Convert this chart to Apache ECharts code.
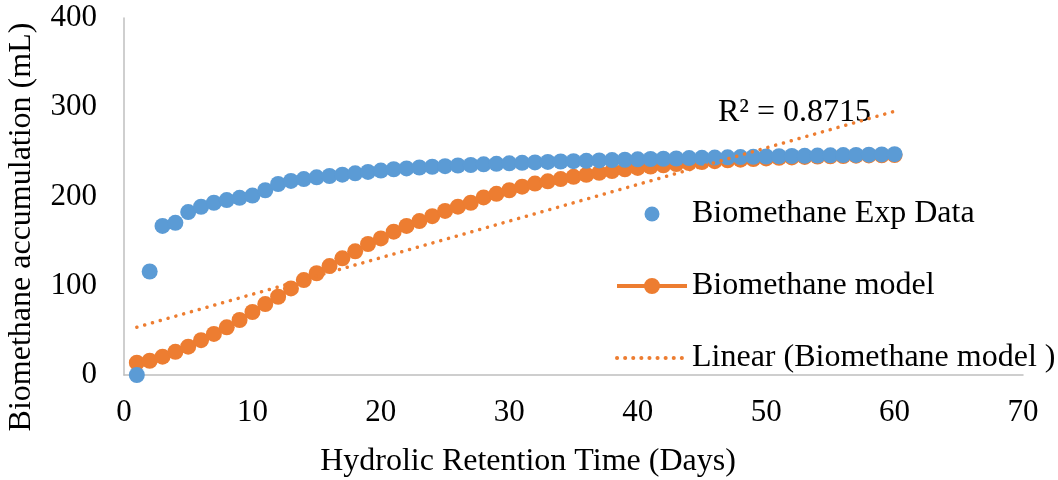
<!DOCTYPE html>
<html>
<head>
<meta charset="utf-8">
<script src="https://cdn.jsdelivr.net/npm/echarts@6/dist/echarts.min.js"></script>
<style>
html,body{margin:0;padding:0;background:#fff;}
#chart{width:1058px;height:480px;}
</style>
</head>
<body>
<div id="chart"></div>
<script>
// ---- data ----
const days = [];
for (let d = 1; d <= 60; d++) days.push(d);

const expData = [
  0, 116, 167, 170.5, 182.5, 188.5, 193, 196, 198.5, 201,
  207, 214, 217.5, 219.5, 221.5, 223, 224.5, 226, 227.5, 229,
  230.5, 231.5, 232.5, 233.3, 234, 234.7, 235.3, 236, 236.6, 237.2,
  237.7, 238.2, 238.7, 239.2, 239.6, 240, 240.4, 240.8, 241.2, 241.6,
  242, 242.3, 242.6, 243, 243.3, 243.6, 243.9, 244.2, 244.5, 244.8,
  245.1, 245.4, 245.6, 245.9, 246.1, 246.4, 246.6, 246.9, 247.1, 247.4
];

const modelData = [
  13.8, 16, 20.5, 26, 31.7, 39, 46, 53.4, 61.6, 70.6,
  79.5, 87.7, 97, 106.4, 114, 122, 130.7, 138.6, 146.8, 153,
  160.6, 167, 172.5, 178, 183.8, 188.6, 193, 199, 203, 207,
  211, 214.5, 217, 219.5, 222, 224.3, 226.5, 228.5, 230.4, 232,
  233.6, 235, 236.3, 237.5, 238.6, 239.6, 240.5, 241.3, 242, 242.7,
  243.3, 243.8, 244.3, 244.7, 245.1, 245.4, 245.7, 246, 246.2, 246.4
];

const xTicks = [0, 10, 20, 30, 40, 50, 60, 70];
const yTicks = [0, 100, 200, 300, 400];
const seriesNames = ['Biomethane Exp Data', 'Biomethane model', 'Linear (Biomethane model )'];
const r2Label = 'R² = 0.8715';
const xTitle = 'Hydrolic Retention Time (Days)';
const yTitle = 'Biomethane accumulation (mL)';

// least-squares trendline of the model series
function linReg(xs, ys) {
  const n = xs.length;
  let sx = 0, sy = 0, sxx = 0, sxy = 0;
  for (let i = 0; i < n; i++) { sx += xs[i]; sy += ys[i]; sxx += xs[i]*xs[i]; sxy += xs[i]*ys[i]; }
  const b = (n*sxy - sx*sy) / (n*sxx - sx*sx);
  const a = (sy - b*sx) / n;
  return {a, b};
}
const reg = linReg(days, modelData);
const x0 = days[0], x1 = days[days.length-1];
const trend = [[x0, reg.a + reg.b*x0], [x1, reg.a + reg.b*x1]];

const FONT = 'Liberation Serif';
const ORANGE = '#ED7D31';
const BLUE = '#5B9BD5';

const chart = echarts.init(document.getElementById('chart'), null, {renderer: 'canvas'});
chart.setOption({
  animation: false,
  backgroundColor: '#fff',
  grid: {left: 124, right: 35, top: 18, bottom: 105, containLabel: false},
  xAxis: {
    type: 'value', min: xTicks[0], max: xTicks[xTicks.length-1], interval: 10,
    axisLine: {show: true, lineStyle: {color: '#BFBFBF', width: 1.5}},
    axisTick: {show: false},
    splitLine: {show: false},
    axisLabel: {fontFamily: FONT, fontSize: 31, color: '#000', margin: 22}
  },
  yAxis: {
    type: 'value', min: yTicks[0], max: yTicks[yTicks.length-1], interval: 100,
    axisLine: {show: true, lineStyle: {color: '#BFBFBF', width: 1.5}},
    axisTick: {show: false},
    splitLine: {show: false},
    axisLabel: {fontFamily: FONT, fontSize: 31, color: '#000', margin: 27}
  },
  legend: {
    orient: 'vertical', left: 615, top: 198, padding: 0,
    itemWidth: 70, itemHeight: 15, itemGap: 40,
    textStyle: {fontFamily: FONT, fontSize: 32, color: '#000', lineHeight: 32},
    data: [
      {name: seriesNames[0], icon: 'circle'},
      {name: seriesNames[1], lineStyle: {width: 4}, itemStyle: {borderColor: ORANGE, borderWidth: 4}},
      {name: seriesNames[2], itemStyle: {opacity: 0},
       lineStyle: {color: ORANGE, width: 4, type: [0.1, 8], cap: 'round', opacity: 1}}
    ]
  },
  graphic: [
    {
      type: 'text', x: 528, y: 462, silent: true,
      style: {text: xTitle, font: '32px "Liberation Serif"', fill: '#000', align: 'center', verticalAlign: 'middle'}
    },
    {
      type: 'text', x: 22, y: 227, rotation: Math.PI/2, silent: true,
      style: {text: yTitle, font: '32px "Liberation Serif"', fill: '#000', align: 'center', verticalAlign: 'middle'}
    },
    {
      type: 'text', x: 718, y: 113, silent: true,
      style: {text: r2Label, font: '32px "Liberation Serif"', fill: '#000', align: 'left', verticalAlign: 'middle'}
    }
  ],
  series: [
    {
      name: seriesNames[1], type: 'line', z: 2,
      data: days.map((d, i) => [d, modelData[i]]),
      symbol: 'circle', symbolSize: 16, showSymbol: true, showAllSymbol: true,
      lineStyle: {color: ORANGE, width: 3},
      itemStyle: {color: ORANGE}
    },
    {
      name: seriesNames[0], type: 'scatter', z: 3,
      data: days.map((d, i) => [d, expData[i]]),
      symbol: 'circle', symbolSize: 16,
      itemStyle: {color: BLUE, opacity: 1}
    },
    {
      name: seriesNames[2], type: 'line', z: 4,
      data: trend, symbol: 'none',
      lineStyle: {color: ORANGE, width: 3.5, type: [0.1, 8], cap: 'round'},
      itemStyle: {color: ORANGE}
    }
  ]
});
</script>
</body>
</html>
